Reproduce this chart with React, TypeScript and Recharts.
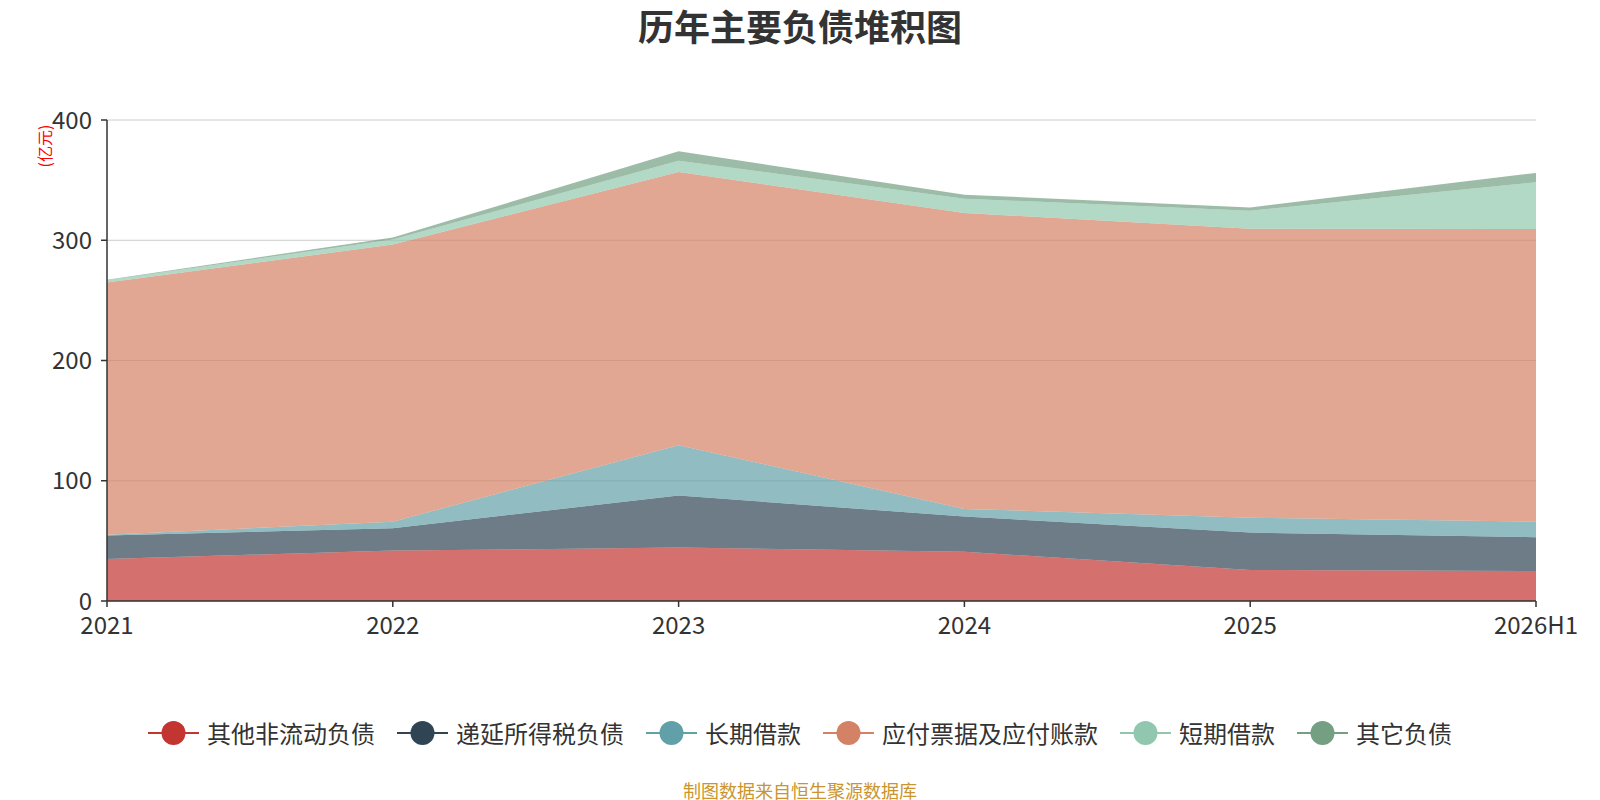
import React from "react";
import {
	Area,
	AreaChart,
	CartesianGrid,
	XAxis,
	YAxis,
} from "recharts";

const years = ["2021", "2022", "2023", "2024", "2025", "2026H1"];

// 亿元
const otherNonCurrent = [35.0, 41.9, 44.4, 41.0, 25.8, 25.0];
const deferredTax = [19.4, 18.6, 43.3, 29.2, 31.1, 28.0];
const longTermLoans = [0.6, 5.5, 41.9, 6.4, 12.4, 13.0];
const payables = [209.9, 230.4, 227.2, 246.1, 240.3, 243.4];
const shortTermLoans = [1.8, 4.2, 9.4, 11.9, 15.0, 38.8];
const otherLiabilities = [0.5, 1.7, 7.8, 3.3, 2.7, 7.8];

const yTicks = [0, 100, 200, 300, 400];

const series = [
	{ key: "a", name: "其他非流动负债", color: "#c23531", values: otherNonCurrent },
	{ key: "b", name: "递延所得税负债", color: "#2f4554", values: deferredTax },
	{ key: "c", name: "长期借款", color: "#61a0a8", values: longTermLoans },
	{ key: "d", name: "应付票据及应付账款", color: "#d48265", values: payables },
	{ key: "e", name: "短期借款", color: "#91c7ae", values: shortTermLoans },
	{ key: "f", name: "其它负债", color: "#749f83", values: otherLiabilities },
];

const data = years.map((year, i) => {
	const row: Record<string, number | string> = { year };
	series.forEach((s) => {
		row[s.key] = s.values[i];
	});
	return row;
});

const FONT = '"Noto Sans CJK SC", "Noto Sans", sans-serif';

function LegendIcon({ color }: { color: string }) {
	return (
		<svg width={51} height={26} style={{ display: "block" }}>
			<line x1={0} y1={13} x2={51} y2={13} stroke={color} strokeWidth={2} />
			<circle cx={25.5} cy={13} r={12} fill={color} />
		</svg>
	);
}

export default function App() {
	return (
		<div
			style={{
				position: "absolute",
				left: 0,
				top: 0,
				width: 1600,
				height: 800,
				background: "#fff",
				fontFamily: FONT,
			}}
		>
			<div
				style={{
					position: "absolute",
					top: 1,
					left: 0,
					width: 1600,
					textAlign: "center",
					fontSize: 36,
					fontWeight: 700,
					color: "#333",
					lineHeight: "48px",
				}}
			>
				历年主要负债堆积图
			</div>
			<div
				style={{
					position: "absolute",
					left: 44,
					top: 146,
					transform: "translate(-50%, -50%) rotate(-90deg)",
					color: "#ff0000",
					fontSize: 16,
					whiteSpace: "nowrap",
				}}
			>
				(亿元)
			</div>
			<AreaChart
				width={1600}
				height={800}
				data={data}
				margin={{ top: 120, right: 64, bottom: 157, left: 27 }}
			>
				<CartesianGrid stroke="#cccccc" vertical={false} />
				<XAxis
					dataKey="year"
					axisLine={{ stroke: "#333", strokeWidth: 1.5 }}
					tickLine={{ stroke: "#333", strokeWidth: 1.5 }}
					tickSize={6}
					tickMargin={10}
					tick={{ fontSize: 24, fill: "#333", fontFamily: FONT }}
					interval={0}
					height={42}
				/>
				<YAxis
					domain={[0, 400]}
					ticks={yTicks}
					axisLine={{ stroke: "#333", strokeWidth: 1.5 }}
					tickLine={{ stroke: "#333", strokeWidth: 1.5 }}
					tickSize={6}
					tickMargin={9}
					tick={{ fontSize: 24, fill: "#333", fontFamily: FONT }}
					width={80}
				/>
				{series.map((s) => (
					<Area
						key={s.key}
						type="linear"
						dataKey={s.key}
						name={s.name}
						stackId="1"
						stroke="none"
						fill={s.color}
						fillOpacity={0.7}
						dot={false}
						activeDot={false}
						isAnimationActive={false}
					/>
				))}
			</AreaChart>
			<div
				style={{
					position: "absolute",
					top: 717,
					left: 0,
					width: 1600,
					display: "flex",
					justifyContent: "center",
					alignItems: "center",
					gap: 22,
					fontSize: 24,
					color: "#333",
					lineHeight: "32px",
				}}
			>
				{series.map((s) => (
					<div
						key={s.key}
						style={{ display: "flex", alignItems: "center", gap: 8 }}
					>
						<LegendIcon color={s.color} />
						<span>{s.name}</span>
					</div>
				))}
			</div>
			<div
				style={{
					position: "absolute",
					top: 778,
					left: 0,
					width: 1600,
					textAlign: "center",
					fontSize: 18,
					color: "#c9952c",
					lineHeight: "24px",
				}}
			>
				制图数据来自恒生聚源数据库
			</div>
		</div>
	);
}
